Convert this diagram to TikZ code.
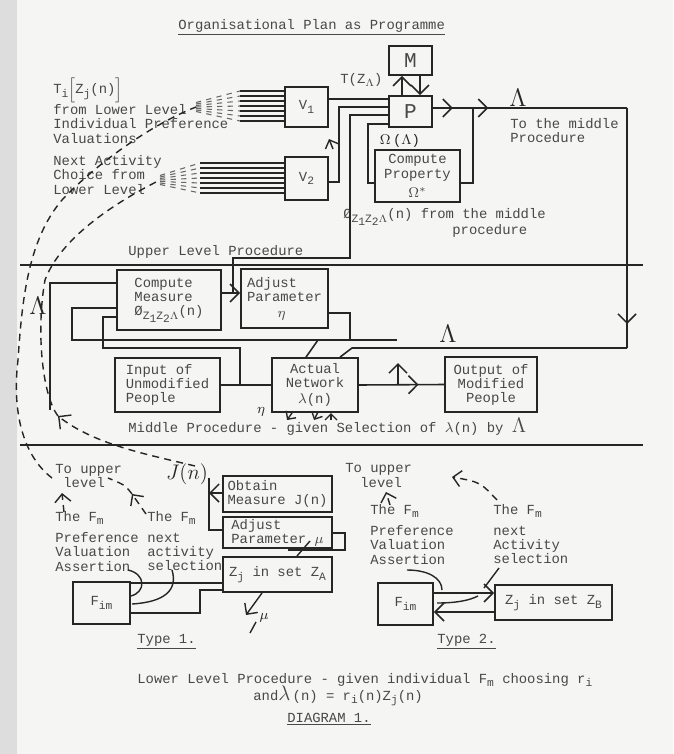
\documentclass[tikz,border=0pt]{standalone}
\usepackage{amsmath,amssymb}
\usepackage{fontspec}
\setmainfont{Liberation Mono}
\usetikzlibrary{arrows.meta,decorations.markings}
\definecolor{ink}{RGB}{38,38,38}
\definecolor{typeink}{RGB}{72,72,72}
\definecolor{paper}{RGB}{245,245,243}
\definecolor{edge}{RGB}{221,221,221}
\newcommand{\tyfont}{\fontsize{7.9}{8}\selectfont}
\newcommand{\lo}[1]{\raisebox{-0.5ex}{\fontsize{6.4}{6.4}\selectfont #1}}
\tikzset{
  box/.style={draw=ink, line width=1pt, inner sep=1pt, align=center, text=typeink},
  lbox/.style={box, align=left},
  txt/.style={inner sep=0pt, anchor=west, align=left, text=typeink},
  hlab/.style={inner sep=0pt, text=ink},
  wire/.style={ink, line width=0.9pt},
  arr/.style={wire, -{Straight Barb[length=1.8mm]}},
  midarr/.style={wire, postaction={decorate, decoration={markings,
      mark=at position #1 with {\arrow{Straight Barb[length=1.8mm]}}}}},
  hand/.style={ink, line width=0.8pt, dash pattern=on 4pt off 3pt},
  fan/.style={ink!70, line width=0.6pt, dash pattern=on 3pt off 3pt},
  scrib/.style={ink, line width=0.8pt},
}

\begin{document}
\begin{tikzpicture}[x=0.02cm, y=-0.02cm, font=\tyfont]
  \useasboundingbox (0,0) rectangle (673,754);
  \fill[paper] (0,0) rectangle (673,754);
  \fill[edge] (0,0) rectangle (17,754);
  \node[txt] (title) at (178,27) {\underline{Organisational Plan as Programme}};

  % upper level
  \node[box, minimum width=0.86cm, minimum height=0.58cm] (mbox) at (410.5,60.5) {\large M};
  \node[box, minimum width=0.86cm, minimum height=0.62cm] (pbox) at (410.5,111.5) {\large P};
  \node[box, minimum width=0.86cm, minimum height=0.80cm] (vone) at (306.5,107) {V\lo{1}};
  \node[box, minimum width=0.86cm, minimum height=0.86cm] (vtwo) at (306.5,178.5) {V\lo{2}};
  \node[box, minimum width=1.70cm, minimum height=1.04cm] (cprop) at (417.5,176) {Compute\\Property\\[3pt]$\Omega^*$};
  \node[txt] (tz) at (53,90) {T\lo{i}$\Big[$Z\lo{j}(n)$\Big]$};
  \node[txt] (fromlow) at (53,124) {from Lower Level\\Individual Preference\\Valuations};
  \node[txt] (nextact) at (53,175) {Next Activity\\Choice from\\Lower Level};
  \node[txt] (tzl) at (340,80) {T(Z\lo{$\Lambda$})};
  \node[hlab] (oml) at (400,141) {$\Omega$\,($\Lambda$)};
  \node[hlab] (laml) at (518,98) {\Large$\Lambda$};
  \node[txt] (tomid) at (510,131) {To the middle\\Procedure};
  \node[txt] (phil) at (343,217) {Ø\lo{Z\lo{1}Z\lo{2}$\Lambda$}(n) from the middle};
  \node[txt] (phim) at (452,231) {procedure};
  \node[txt] (upl) at (128,252) {Upper Level Procedure};

  \foreach \y in {91,96,...,121} {
    \draw[fan] (196,{107+(\y-106)*0.3}) -- (240,\y);
    \draw[wire] (240,\y) -- (vone.west |- 0,\y);
  }
  \foreach \y in {163,168,...,193} {
    \draw[fan] (160,{180+(\y-178)*0.3}) -- (200,\y);
    \draw[wire] (200,\y) -- (vtwo.west |- 0,\y);
  }
  \draw[wire] (vone.east |- 0,99) -- (pbox.west |- 0,99);
  \draw[wire] (vtwo.east |- 0,182) -| (339,107) -- (pbox.west |- 0,107);
  \draw[scrib, -{Straight Barb[length=1.4mm]}] (333,149) -- (329,139);
  \draw[arr] (pbox.north -| 402,0) -- (mbox.south -| 402,0);
  \draw[arr] (mbox.south -| 420,0) -- (pbox.north -| 420,0);
  \draw[wire] (cprop.west |- 0,183) -| (368,124) -- (pbox.west |- 0,124);
  \draw[midarr=0.5] (pbox.east |- 0,108) -- (473,108);
  \draw[midarr=0.1] (473,108) -- (627,108);
  \draw[wire] (cprop.east |- 0,183) -| (473,108);
  \draw[midarr=0.9] (627,108) -- (627,348);

  \draw[wire] (20,265) -- (643,265);

  % middle level
  \node[lbox, minimum width=2.08cm, minimum height=1.20cm] (cmeas) at (169,300) {Compute\\Measure\\Ø\lo{Z\lo{1}Z\lo{2}$\Lambda$}(n)};
  \node[lbox, minimum width=1.74cm, minimum height=1.18cm] (adjeta) at (284.5,298.5) {Adjust\\Parameter\\[1pt]\hspace*{2.2em}$\eta$};
  \node[lbox, minimum width=2.10cm, minimum height=1.08cm] (inppl) at (167.5,385) {Input of\\Unmodified\\People};
  \node[box, minimum width=1.72cm, minimum height=1.08cm] (actnet) at (315,385) {Actual\\Network\\[1pt]$\lambda$(n)};
  \node[box, minimum width=1.84cm, minimum height=1.10cm] (outppl) at (491,384.5) {Output of\\Modified\\People};
  \node[hlab] (lamleft) at (38,306) {\Large$\Lambda$};
  \node[hlab] (lammid) at (448,334) {\Large$\Lambda$};
  \node[txt] (midl) at (128,427) {Middle Procedure - given Selection of $\lambda$(n) by {\large$\Lambda$}};
  \node[hlab] (etan) at (261,412) {$\eta$};

  \coordinate (jm) at (233,293);
  \draw[arr] (cmeas.east |- jm) -- (adjeta.west |- jm);
  \draw[wire] (jm) |- (350,258) -- (350,115) -- (pbox.west |- 0,115);
  \draw[wire] (627,348) -- (352,348) -- (actnet.north -| 340,0);
  \draw[wire] (adjeta.east |- 0,313) -| (350,340);
  \draw[wire] (397,340) -- (72,340) |- (cmeas.west |- 0,308);
  \draw[wire] (318,340) -- (actnet.north -| 306,0);
  \draw[wire] (inppl.east) -- (actnet.west);
  \draw[wire] (240,385) |- (103,348) |- (cmeas.west |- 0,317);
  \draw[wire] (50,410) |- (cmeas.west |- 0,283);
  \draw[midarr=0.7] (actnet.east) -- (outppl.west);
  \draw[arr] (398,385) -- (398,363);
  \draw[scrib, -{Straight Barb[length=1.2mm]}] (292,413) -- (287,420);
  \draw[scrib, -{Straight Barb[length=1.2mm]}] (318,412) -- (314,420);
  \draw[scrib, -{Straight Barb[length=1.2mm]}] (331,420) -- (331,413);

  \draw[wire] (20,445) -- (643,445);

  % lower level, type 1
  \node[lbox, minimum width=2.18cm, minimum height=0.72cm] (obtj) at (277.5,494) {Obtain\\Measure J(n)};
  \node[lbox, minimum width=2.18cm, minimum height=0.62cm] (adjmu) at (277.5,532.5) {Adjust\\Parameter $\mu$};
  \node[box, minimum width=2.18cm, minimum height=0.70cm] (zseta) at (277.5,574.5) {Z\lo{j} in set Z\lo{A}};
  \node[box, minimum width=1.14cm, minimum height=0.84cm] (fima) at (101.5,603) {F\lo{im}};
  \node[txt] (tupa) at (55,470) {To upper};
  \node[txt] (tupb) at (63,483) {level};
  \node[txt] (fma) at (55,518) {The F\lo{m}};
  \node[txt] (preva) at (55,552) {Preference\\Valuation\\Assertion};
  \node[txt] (fmb) at (147,518) {The F\lo{m}};
  \node[txt] (nexa) at (147,552) {next\\activity\\selection};
  \node[hlab] (jn) at (187,474) {\large$J(n)$};
  \node[hlab] (mul) at (264,618) {$\mu$};

  \draw[arr] (obtj.west |- 0,493) -- (209,493);
  \draw[wire] (209,478) -- (209,530) -- (adjmu.west |- 0,530);
  \draw[wire] (adjmu.east |- 0,533) -| (345,550) -- (288,550);
  \draw[scrib] (297,556) -- (310,541);
  \draw[wire] (zseta.west |- 0,583) -- (fima.east |- 0,583);
  \draw[wire] (fima.east |- 0,613) -| (200,590) -- (zseta.west |- 0,590);
  \draw[scrib] (128,570) .. controls (146,574) and (146,592) .. (131,596);
  \draw[scrib] (172,570) .. controls (178,590) and (165,602) .. (132,604);
  \draw[scrib, -{Straight Barb[length=1.6mm]}] (262,593) -- (246,615);
  \draw[scrib] (256,622) -- (250,633);
  \draw[hand, -{Straight Barb[length=1.6mm]}] (64,512) -- (62,493);
  \draw[hand, -{Straight Barb[length=1.6mm]}] (146,514) .. controls (140,505) .. (132,494);
  \draw[hand] (132,494) .. controls (125,485) .. (108,478);

  % lower level, type 2
  \node[box, minimum width=1.10cm, minimum height=0.84cm] (fimb) at (405.5,604) {F\lo{im}};
  \node[box, minimum width=2.34cm, minimum height=0.70cm] (zsetb) at (553.5,602.5) {Z\lo{j} in set Z\lo{B}};
  \node[txt] (tupc) at (345,469) {To upper};
  \node[txt] (tupd) at (360,483) {level};
  \node[txt] (fmc) at (370,511) {The F\lo{m}};
  \node[txt] (prevb) at (370,545) {Preference\\Valuation\\Assertion};
  \node[txt] (fmd) at (493,511) {The F\lo{m}};
  \node[txt] (nexb) at (493,545) {next\\Activity\\selection};
  \draw[arr] (fimb.east |- 0,593) -- (zsetb.west |- 0,593);
  \draw[arr] (zsetb.west |- 0,612) -- (fimb.east |- 0,612);
  \draw[scrib] (407,570) .. controls (428,570) and (442,578) .. (442,590);
  \draw[scrib] (499,568) -- (484,588);
  \draw[scrib] (437,603) .. controls (458,603) and (470,600) .. (478,596);
  \draw[hand, -{Straight Barb[length=1.6mm]}] (497,500) .. controls (480,482) .. (452,477);
  \draw[hand, -{Straight Barb[length=1.6mm]}] (390,505) -- (386,492);

  % dashed returns to the upper level
  \draw[hand] (52,478) .. controls (22,455) and (12,410) .. (18,360)
    .. controls (22,300) and (28,240) .. (62,200) .. controls (95,165) and (150,125) .. (196,107);
  \draw[hand, -{Straight Barb[length=1.8mm]}] (195,466) .. controls (150,455) and (95,445) .. (58,416);
  \draw[hand] (58,416) .. controls (42,395) and (36,330) .. (45,280)
    .. controls (60,240) and (110,205) .. (160,180);

  % captions
  \node[txt] (typa) at (137,642) {\underline{Type 1.}};
  \node[txt] (typb) at (437,642) {\underline{Type 2.}};
  \node[txt] (lowproc) at (137,680) {Lower Level Procedure - given individual F\lo{m} choosing r\lo{i}};
  \node[txt] (andeq) at (253,696) {and{\large$\lambda$}\,(n) = r\lo{i}(n)Z\lo{j}(n)};
  \node[txt] (diag) at (287,719) {\underline{DIAGRAM 1.}};
\end{tikzpicture}
\end{document}
